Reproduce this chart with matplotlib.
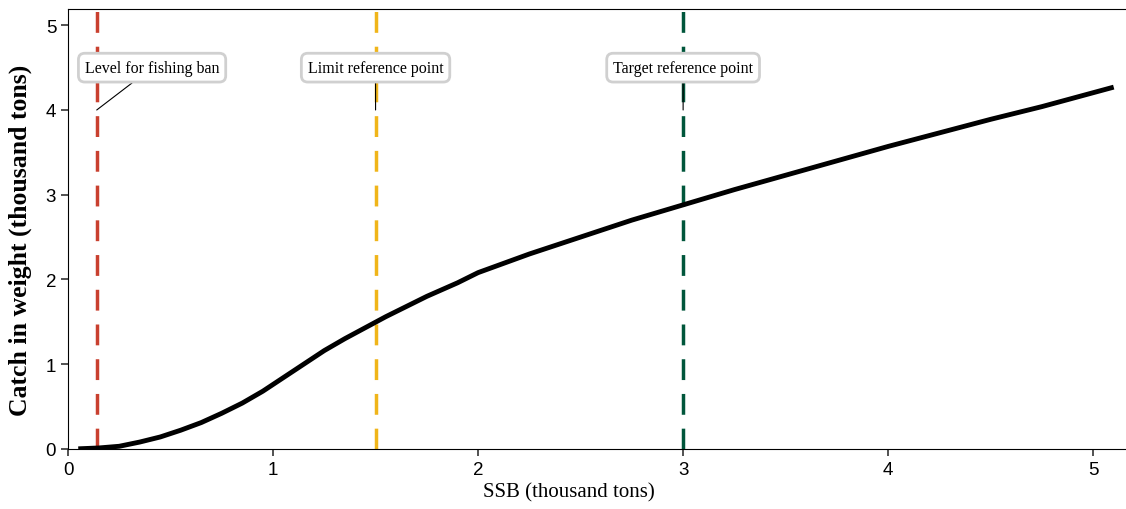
import matplotlib
matplotlib.use("Agg")

import matplotlib.pyplot as plt
import numpy as np

# catch curve vs spawning stock biomass (thousand tons)
ssb = [0.05, 0.15, 0.25, 0.35, 0.45, 0.55, 0.65, 0.75, 0.85, 0.95, 1.05, 1.15, 1.25, 1.35, 1.45,
       1.55, 1.65, 1.75, 1.9, 2.0, 2.25, 2.5, 2.75, 3.0, 3.25, 3.5, 3.75, 4.0, 4.25, 4.5, 4.75, 5.1]
catch = [0.0, 0.01, 0.03, 0.08, 0.14, 0.22, 0.31, 0.42, 0.54, 0.68, 0.84, 1.00, 1.16, 1.30, 1.43,
         1.56, 1.68, 1.80, 1.96, 2.08, 2.30, 2.50, 2.70, 2.88, 3.06, 3.23, 3.40, 3.57, 3.73, 3.89, 4.04, 4.27]

ref_names = ["Level for fishing ban", "Limit reference point", "Target reference point"]
ref_ssb = [0.14, 1.5, 3.0]
ref_colors = ["#c9402f", "#f0b51a", "#00563b"]
label_x = [0.41, 1.5, 3.0]

fig, ax = plt.subplots(figsize=(11.26, 5.1), dpi=100)

ax.plot(ssb, catch, color="black", lw=3.5, solid_capstyle="butt", zorder=3)

for name, x, col, lx in zip(ref_names, ref_ssb, ref_colors, label_x):
    ax.axvline(x, color=col, lw=2.5, ls=(0, (6, 4)), zorder=2)
    ax.annotate(
        name, xy=(x, 4.0), xytext=(lx, 4.5),
        ha="center", va="center", fontsize=11.5, family="Liberation Serif",
        bbox=dict(boxstyle="round,pad=0.4", fc="white", ec="#d0d0d0", lw=2),
        arrowprops=dict(arrowstyle="-", color="black", lw=0.8, shrinkA=0, shrinkB=0),
        zorder=4,
    )

ax.set_xlim(0, 5.16)
ax.set_ylim(0, 5.19)
ax.set_xticks([0, 1, 2, 3, 4, 5])
ax.set_yticks([0, 1, 2, 3, 4, 5])
for lbl in ax.get_xticklabels() + ax.get_yticklabels():
    lbl.set_family("Liberation Sans")
    lbl.set_fontsize(13.5)
ax.tick_params(length=5, width=1.2, color="#333333")
ax.spines["right"].set_visible(False)

ax.set_xlabel("SSB (thousand tons)", family="Liberation Serif", fontsize=15)
ax.set_ylabel("Catch in weight (thousand tons)", family="Liberation Serif", fontsize=18.5,
              fontweight="bold")
ax.xaxis.set_label_coords(0.473, -0.075)
ax.yaxis.set_label_coords(-0.034, 0.477)

fig.subplots_adjust(left=0.0604, right=1.0, bottom=0.118, top=0.98)
fig.savefig("out.png", dpi=100)
plt.close(fig)
